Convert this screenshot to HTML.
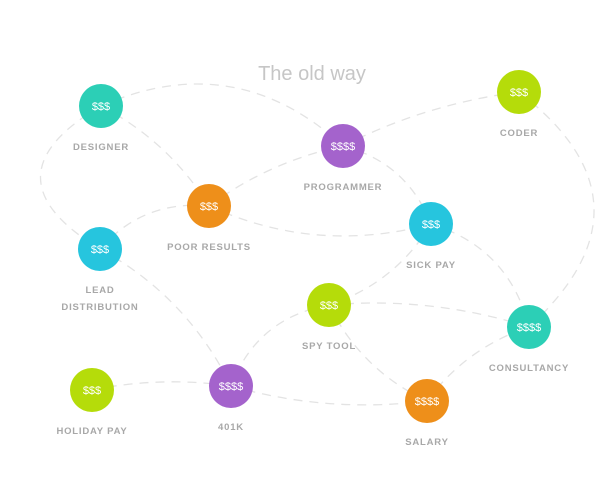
<!DOCTYPE html>
<html><head><meta charset="utf-8"><style>
html,body{margin:0;padding:0;background:#fff;}
svg{display:block;font-family:"Liberation Sans",sans-serif;}
</style></head><body>
<svg id="chart" width="603" height="495">
<text x="312" y="80" text-anchor="middle" font-size="20" fill="#c6c6c6">The old way</text>
<g id="edges"></g>
<g id="nodes"></g>
</svg>
<script>
const names=["DESIGNER","PROGRAMMER","CODER","POOR RESULTS","SICK PAY","LEAD|DISTRIBUTION","SPY TOOL","CONSULTANCY","HOLIDAY PAY","401K","SALARY"];
const values=["$$$","$$$$","$$$","$$$","$$$","$$$","$$$","$$$$","$$$","$$$$","$$$$"];
const xs=[101,343,519,209,431,100,329,529,92,231,427];
const ys=[106,146,92,206,224,249,305,327,390,386,401];
const colorsArr=["#2ccfb6","#a463cc","#b5dc0a","#ee8f1a","#26c5de","#26c5de","#b5dc0a","#2ccfb6","#b5dc0a","#a463cc","#ee8f1a"];
const edgeFrom=[0,0,0,5,3,3,1,1,2,4,4,6,6,6,5,8,9,10];
const edgeTo=[1,3,5,3,1,4,2,4,7,6,7,7,10,9,9,9,10,7];
const edgeBend=[-40,-10,60,-15,-8,20,-8,-15,-70,-12,-20,-10,12,18,-15,-6,10,-10];
const NS="http://www.w3.org/2000/svg";
const eg=document.getElementById('edges'),ng=document.getElementById('nodes');
const R=22;
for(let i=0;i<edgeFrom.length;i++){
  const a=edgeFrom[i],b=edgeTo[i];
  const x1=xs[a],y1=ys[a],x2=xs[b],y2=ys[b];
  const mx=(x1+x2)/2,my=(y1+y2)/2,dx=x2-x1,dy=y2-y1,L=Math.hypot(dx,dy);
  const cx=mx+(-dy/L)*edgeBend[i]*2,cy=my+(dx/L)*edgeBend[i]*2;
  const p=document.createElementNS(NS,'path');
  p.setAttribute('d',`M${x1},${y1} Q${cx},${cy} ${x2},${y2}`);
  p.setAttribute('fill','none');p.setAttribute('stroke','#e3e3e3');
  p.setAttribute('stroke-width','1.3');p.setAttribute('stroke-dasharray','9 7');
  
  
  eg.appendChild(p);
}
for(let i=0;i<names.length;i++){
  const g=document.createElementNS(NS,'g');
  
  
  const c=document.createElementNS(NS,'circle');
  c.setAttribute('cx',xs[i]);c.setAttribute('cy',ys[i]);c.setAttribute('r',R);c.setAttribute('fill',colorsArr[i]);
  
  
  g.appendChild(c);
  const t=document.createElementNS(NS,'text');
  t.setAttribute('x',xs[i]);t.setAttribute('y',ys[i]+4);t.setAttribute('text-anchor','middle');
  t.setAttribute('font-size','11');t.setAttribute('fill','#fff');t.textContent=values[i];
  
  
  g.appendChild(t);
  const lines=names[i].split('|');
  lines.forEach((ln,k)=>{
    const l=document.createElementNS(NS,'text');
    l.setAttribute('x',xs[i]);l.setAttribute('y',ys[i]+44+k*17);l.setAttribute('text-anchor','middle');
    l.setAttribute('font-size','9.5');l.setAttribute('font-weight','bold');l.setAttribute('letter-spacing','0.8');
    l.setAttribute('fill','#a8a8a8');l.textContent=ln;
    
    
    g.appendChild(l);
  });
  ng.appendChild(g);
}
</script>
</body></html>
